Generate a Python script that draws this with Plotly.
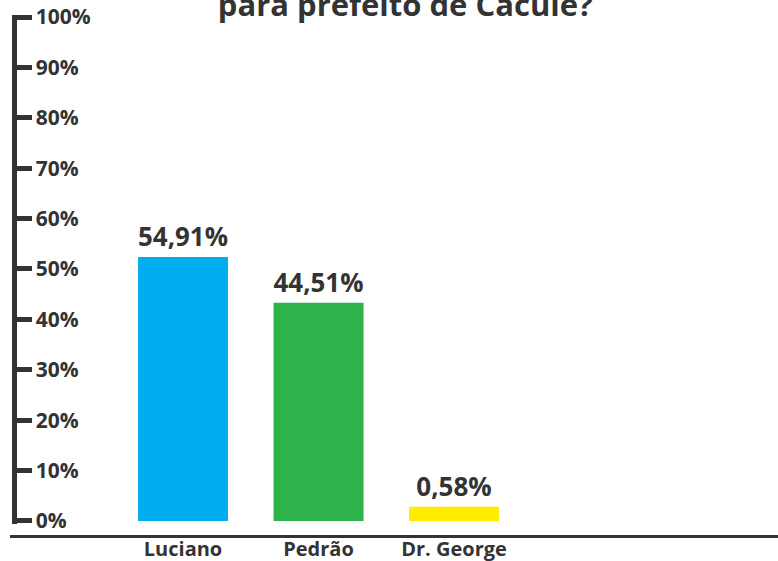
import plotly.graph_objects as go

candidates = ["Luciano", "Pedrão", "Dr. George"]
vote_share = [54.91, 44.51, 0.58]          # printed labels
bar_heights = [52.4, 43.3, 2.8]            # bar heights as drawn on the chart
bar_colors = ["#00AEEF", "#2DB34A", "#FFEC00"]
y_ticks = [0, 10, 20, 30, 40, 50, 60, 70, 80, 90, 100]
y_tick_labels = [f"{v}%" for v in y_ticks]

DARK = "#333333"
FONT = "Open Sans"

labels = [f"{v:.2f}".replace(".", ",") + "%" for v in vote_share]

fig = go.Figure(go.Bar(
    x=candidates,
    y=bar_heights,
    marker=dict(color=bar_colors, line=dict(width=0)),
    text=labels,
    textposition="outside",
    cliponaxis=False,
    textfont=dict(family=FONT, size=26, color=DARK, weight="bold"),
))

fig.update_layout(
    width=778, height=561,
    margin=dict(l=10, r=0, t=0, b=25, autoexpand=False),
    paper_bgcolor="white", plot_bgcolor="white",
    showlegend=False,
    bargap=0.336,
    title=dict(
        text="para prefeito de Caculé?",
        x=0.521, xanchor="center",
        yref="container", y=1 - 16 / 561, yanchor="bottom",
        font=dict(family=FONT, size=31, color=DARK, weight="bold"),
    ),
    xaxis=dict(
        anchor="free", position=0,
        range=[-1.277, 4.391],
        showline=True, linecolor=DARK, linewidth=3,
        showgrid=False, zeroline=False, ticks="",
        tickfont=dict(family=FONT, size=20, color=DARK, weight="bold"),
        ticklabelstandoff=-6,
        automargin=False,
    ),
    yaxis=dict(
        anchor="free", position=0.0046, side="right",
        domain=[0.0224, 0.972],
        range=[-0.6, 100.4],
        tickvals=y_ticks, ticktext=y_tick_labels,
        ticks="outside", ticklen=15, tickwidth=5, tickcolor=DARK,
        showline=True, linecolor=DARK, linewidth=5,
        showgrid=False, zeroline=False,
        tickfont=dict(family=FONT, size=21, color=DARK, weight="bold"),
        automargin=False,
    ),
)

fig.write_html(
    "out.html",
    config={"displayModeBar": False},
    post_script="document.body.style.margin='0';",
)
